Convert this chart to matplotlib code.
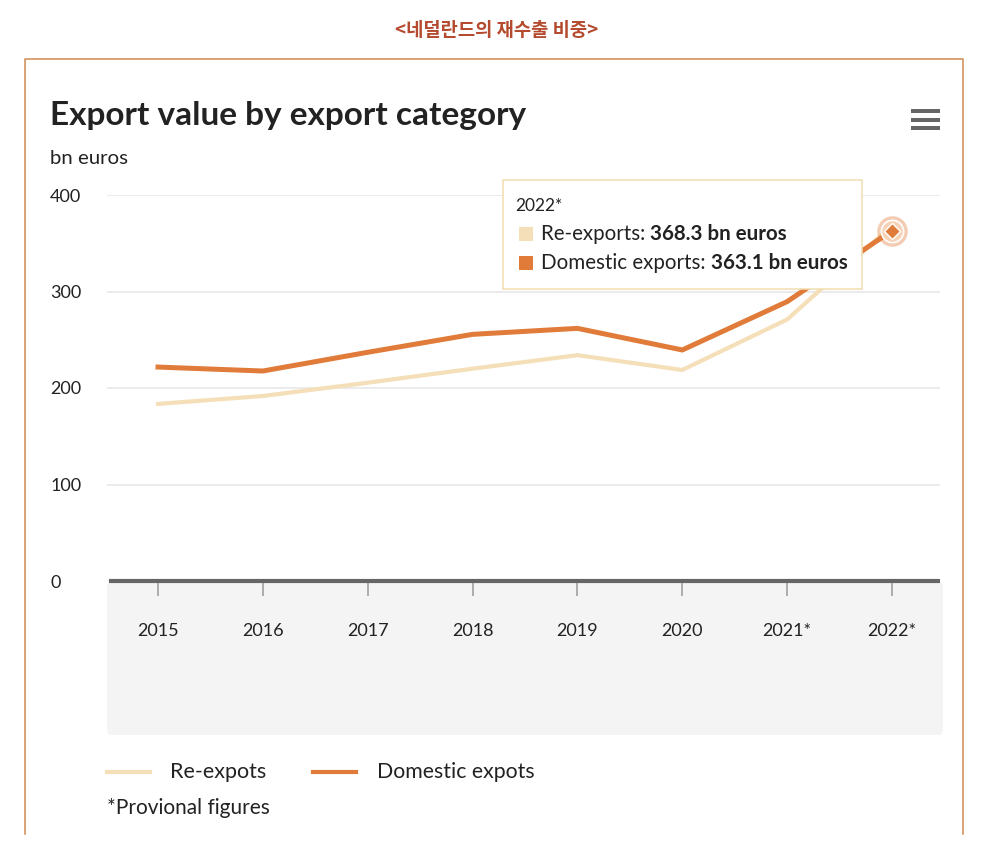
import matplotlib
matplotlib.use("Agg")
import matplotlib.pyplot as plt
from matplotlib.patches import Rectangle, FancyBboxPatch

W, H = 1001, 865

years = ["2015", "2016", "2017", "2018", "2019", "2020", "2021*", "2022*"]
re_exports = [183.5, 191.7, 205.5, 220.0, 234.0, 218.7, 271.0, 368.3]
domestic = [221.7, 217.6, 237.0, 255.6, 261.8, 239.4, 289.5, 363.1]
y_ticks = [0, 100, 200, 300, 400]

RE_COLOR = "#f5dfb8"
DOM_COLOR = "#e07b39"
BORDER = "#d08a50"
TEXT = "#222222"

plt.rcParams["font.family"] = ["Lato", "DejaVu Sans"]

fig = plt.figure(figsize=(W / 100, H / 100), dpi=100)
fig.patch.set_facecolor("white")

# background layer (pixel coords)
bg = fig.add_axes([0, 0, 1, 1], zorder=-1)
bg.set_xlim(0, W)
bg.set_ylim(H, 0)
bg.axis("off")
bg.patch.set_alpha(0)

bg.plot([25, 25, 963, 963], [834, 59, 59, 834], color=BORDER, lw=1.1)
bg.add_patch(FancyBboxPatch((112, 586), 826, 144, boxstyle="round,pad=5,rounding_size=5",
                            fc="#f4f4f4", ec="none"))

# main chart
ax = fig.add_axes([107 / W, (H - 581) / H, 833 / W, 386 / H], zorder=0)
ax.patch.set_alpha(0)
x = list(range(len(years)))
ax.set_xlim(-0.4864, 7.4576)
ax.set_ylim(0, 400)
for s in ax.spines.values():
    s.set_visible(False)
ax.set_yticks(y_ticks)
ax.set_yticklabels([str(v) for v in y_ticks], ha="left", fontsize=13, color=TEXT)
ax.tick_params(axis="y", length=0, pad=41)
ax.grid(axis="y", color="#e6e6e6", lw=1.1)
ax.set_axisbelow(True)
ax.set_xticks(x)
ax.set_xticklabels(years, fontsize=13, color=TEXT)
ax.tick_params(axis="x", length=11, width=1.1, color="#999999", pad=19)

ax.plot(x, re_exports, color=RE_COLOR, lw=3.0, solid_joinstyle="miter", zorder=3)
ax.plot(x, domestic, color=DOM_COLOR, lw=3.6, solid_joinstyle="miter", zorder=4)
ax.plot([-0.47, 7.4576], [0, 0], color="#666666", lw=3, zorder=5, clip_on=False,
        solid_capstyle="butt")

# highlighted point
ax.plot(x[-1], domestic[-1], "o", ms=22, color=DOM_COLOR, alpha=0.38, mec="none", zorder=6)
ax.plot(x[-1], domestic[-1], "o", ms=16, mfc="#f6d2b6", mec="white", mew=1.2, zorder=7)
ax.plot(x[-1], domestic[-1], "D", ms=8, mfc=DOM_COLOR, mec="white", mew=1.0, zorder=8)

# top layer (pixel coords)
top = fig.add_axes([0, 0, 1, 1], zorder=5)
top.set_xlim(0, W)
top.set_ylim(H, 0)
top.axis("off")
top.patch.set_alpha(0)

top.text(497, 31, "<네덜란드의 재수출 비중>", ha="center", va="center", fontsize=13.5,
         color="#b44a2e", fontweight="bold", family=["Noto Sans CJK KR", "DejaVu Sans"])
top.text(50, 115, "Export value by export category", ha="left", va="center",
         fontsize=24, fontweight="bold", color=TEXT)
top.text(50, 158, "bn euros", ha="left", va="center", fontsize=14.7, color=TEXT)

for yy in (111, 120, 128):
    top.add_patch(Rectangle((911, yy - 2), 29, 4, fc="#666666", ec="none"))

# tooltip
top.add_patch(Rectangle((503, 180), 359, 109, fc="white", ec="#f0dcb0", lw=1.1))
top.text(515, 206, "2022*", ha="left", va="center", fontsize=12.5, color=TEXT)
top.add_patch(Rectangle((519, 227), 14, 14, fc=RE_COLOR, ec="none"))
top.add_patch(Rectangle((519, 256), 14, 14, fc=DOM_COLOR, ec="none"))
t1 = top.text(541, 234, "Re-exports: ", ha="left", va="center", fontsize=14.8, color=TEXT)
t2 = top.text(541, 263, "Domestic exports: ", ha="left", va="center", fontsize=14.8, color=TEXT)
fig.canvas.draw()
inv = top.transData.inverted()
for t, val, yy in ((t1, re_exports[-1], 234), (t2, domestic[-1], 263)):
    bb = t.get_window_extent()
    x1 = inv.transform((bb.x1, bb.y0))[0]
    top.text(x1, yy, f"{val:.1f} bn euros", ha="left", va="center", fontsize=14.8,
             fontweight="bold", color=TEXT)

# legend
top.plot([107, 150], [772, 772], color=RE_COLOR, lw=3.0)
top.text(170, 772, "Re-expots", ha="left", va="center", fontsize=15.5, color=TEXT)
top.plot([313, 356], [772, 772], color=DOM_COLOR, lw=3.0)
top.text(377, 772, "Domestic expots", ha="left", va="center", fontsize=15.3, color=TEXT)
top.text(107, 808, "*Provional figures", ha="left", va="center", fontsize=15, color=TEXT)

fig.savefig("out.png", dpi=100)
